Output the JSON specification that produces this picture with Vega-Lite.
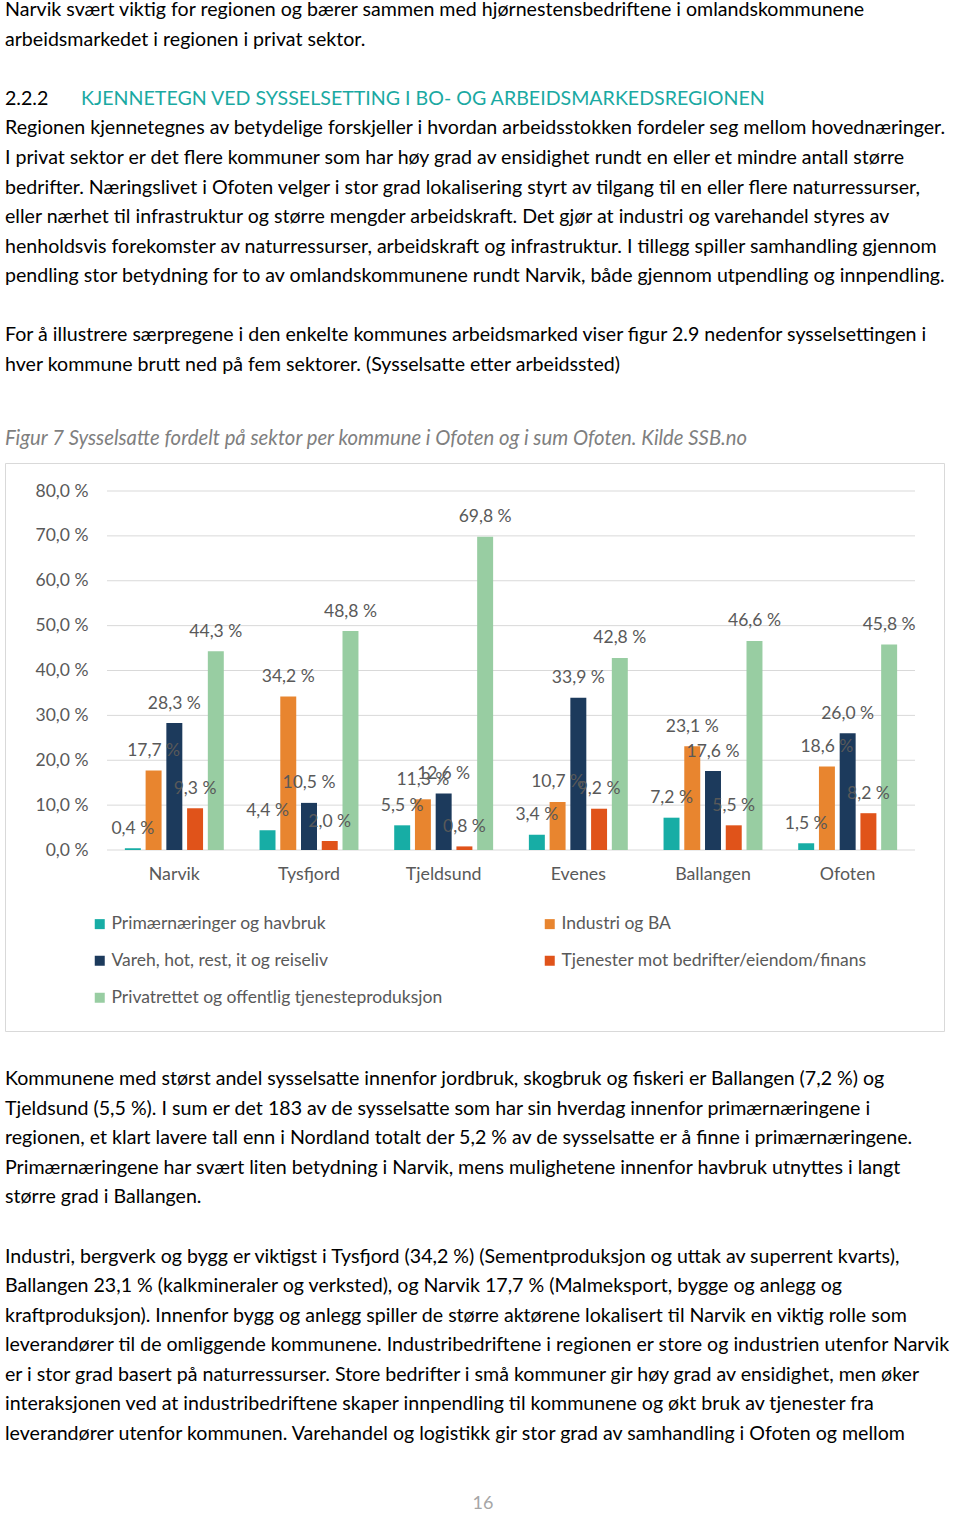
{
  "$schema": "https://vega.github.io/schema/vega-lite/v6.json",
  "background": "white",
  "padding": {"left": 4, "top": 0, "right": 0, "bottom": 0},
  "spacing": 0,
  "bounds": "flush",
  "config": {
    "view": {"stroke": null},
    "font": "Lato",
    "locale": {"number": {"decimal": ",", "thousands": "\u00a0", "grouping": [3], "currency": ["", " %"]}},
    "text": {"font": "Lato"}
  },
  "vconcat": [
    {
      "width": 956,
      "height": 462,
      "data": {"values": [
        {"line": 0, "col": 0, "kind": "body", "text": "Narvik svært viktig for regionen og bærer sammen med hjørnestensbedriftene i omlandskommunene"},
        {"line": 1, "col": 0, "kind": "body", "text": "arbeidsmarkedet i regionen i privat sektor."},
        {"line": 3, "col": 0, "kind": "body", "text": "2.2.2"},
        {"line": 3, "col": 0.0795, "kind": "heading", "text": "KJENNETEGN VED SYSSELSETTING I BO- OG ARBEIDSMARKEDSREGIONEN"},
        {"line": 4, "col": 0, "kind": "body", "text": "Regionen kjennetegnes av betydelige forskjeller i hvordan arbeidsstokken fordeler seg mellom hovednæringer."},
        {"line": 5, "col": 0, "kind": "body", "text": "I privat sektor er det flere kommuner som har høy grad av ensidighet rundt en eller et mindre antall større"},
        {"line": 6, "col": 0, "kind": "body", "text": "bedrifter. Næringslivet i Ofoten velger i stor grad lokalisering styrt av tilgang til en eller flere naturressurser,"},
        {"line": 7, "col": 0, "kind": "body", "text": "eller nærhet til infrastruktur og større mengder arbeidskraft. Det gjør at industri og varehandel styres av"},
        {"line": 8, "col": 0, "kind": "body", "text": "henholdsvis forekomster av naturressurser, arbeidskraft og infrastruktur. I tillegg spiller samhandling gjennom"},
        {"line": 9, "col": 0, "kind": "body", "text": "pendling stor betydning for to av omlandskommunene rundt Narvik, både gjennom utpendling og innpendling."},
        {"line": 11, "col": 0, "kind": "body", "text": "For å illustrere særpregene i den enkelte kommunes arbeidsmarked viser figur 2.9 nedenfor sysselsettingen i"},
        {"line": 12, "col": 0, "kind": "body", "text": "hver kommune brutt ned på fem sektorer. (Sysselsatte etter arbeidssted)"},
        {"line": 14.5, "col": 0, "kind": "caption", "text": "Figur 7 Sysselsatte fordelt på sektor per kommune i Ofoten og i sum Ofoten. Kilde SSB.no"}
      ]},
      "layer": [
        {
          "transform": [{"filter": "datum.kind === 'body'"}],
          "mark": {"type": "text", "align": "left", "baseline": "middle", "fontSize": 19.6, "color": "#000000"},
          "encoding": {
            "x": {"field": "col", "type": "quantitative", "scale": {"domain": [0, 1], "range": [0, 956]}, "axis": null},
            "y": {"field": "line", "type": "quantitative", "scale": {"domain": [0, 14.5], "range": [9, 438]}, "axis": null},
            "text": {"field": "text"}
          }
        },
        {
          "transform": [{"filter": "datum.kind === 'heading'"}],
          "mark": {"type": "text", "align": "left", "baseline": "middle", "fontSize": 19.6, "color": "#1AA9A2"},
          "encoding": {
            "x": {"field": "col", "type": "quantitative", "scale": {"domain": [0, 1], "range": [0, 956]}, "axis": null},
            "y": {"field": "line", "type": "quantitative", "scale": {"domain": [0, 14.5], "range": [9, 438]}, "axis": null},
            "text": {"field": "text"}
          }
        },
        {
          "transform": [{"filter": "datum.kind === 'caption'"}],
          "mark": {"type": "text", "align": "left", "baseline": "middle", "fontSize": 20.3, "fontStyle": "italic", "color": "#7F7F7F"},
          "encoding": {
            "x": {"field": "col", "type": "quantitative", "scale": {"domain": [0, 1], "range": [0, 956]}, "axis": null},
            "y": {"field": "line", "type": "quantitative", "scale": {"domain": [0, 14.5], "range": [9, 438]}, "axis": null},
            "text": {"field": "text"}
          }
        }
      ]
    },
    {
      "width": 939,
      "height": 568,
      "view": {"stroke": "#D9D9D9", "strokeWidth": 1},
      "resolve": {"scale": {"x": "independent"}},
      "layer": [
        {
          "data": {"values": [{"g": 0}, {"g": 10}, {"g": 20}, {"g": 30}, {"g": 40}, {"g": 50}, {"g": 60}, {"g": 70}, {"g": 80}]},
          "mark": {"type": "rule", "color": "#D9D9D9", "strokeWidth": 1},
          "encoding": {
            "x": {"datum": 0, "type": "quantitative", "scale": {"domain": [0, 1], "range": [102, 910]}, "axis": null},
            "x2": {"datum": 1},
            "y": {"field": "g", "type": "quantitative", "title": null, "scale": {"domain": [0, 80], "range": [387, 28], "nice": false, "zero": false},
              "axis": {"values": [0, 10, 20, 30, 40, 50, 60, 70, 80], "format": "$.1f", "offset": -93, "labelPadding": 10, "ticks": false, "tickSize": 0, "domain": false, "grid": false, "labelFont": "Lato", "labelFontSize": 17.5, "labelColor": "#595959", "title": null}}
          }
        },
        {
          "data": {"name": "main", "values": [
            {"kommune": "Narvik", "sektor": "Primærnæringer og havbruk", "value": 0.4},
            {"kommune": "Narvik", "sektor": "Industri og BA", "value": 17.7},
            {"kommune": "Narvik", "sektor": "Vareh, hot, rest, it og reiseliv", "value": 28.3},
            {"kommune": "Narvik", "sektor": "Tjenester mot bedrifter/eiendom/finans", "value": 9.3},
            {"kommune": "Narvik", "sektor": "Privatrettet og offentlig tjenesteproduksjon", "value": 44.3},
            {"kommune": "Tysfjord", "sektor": "Primærnæringer og havbruk", "value": 4.4},
            {"kommune": "Tysfjord", "sektor": "Industri og BA", "value": 34.2},
            {"kommune": "Tysfjord", "sektor": "Vareh, hot, rest, it og reiseliv", "value": 10.5},
            {"kommune": "Tysfjord", "sektor": "Tjenester mot bedrifter/eiendom/finans", "value": 2.0},
            {"kommune": "Tysfjord", "sektor": "Privatrettet og offentlig tjenesteproduksjon", "value": 48.8},
            {"kommune": "Tjeldsund", "sektor": "Primærnæringer og havbruk", "value": 5.5},
            {"kommune": "Tjeldsund", "sektor": "Industri og BA", "value": 11.3},
            {"kommune": "Tjeldsund", "sektor": "Vareh, hot, rest, it og reiseliv", "value": 12.6},
            {"kommune": "Tjeldsund", "sektor": "Tjenester mot bedrifter/eiendom/finans", "value": 0.8},
            {"kommune": "Tjeldsund", "sektor": "Privatrettet og offentlig tjenesteproduksjon", "value": 69.8},
            {"kommune": "Evenes", "sektor": "Primærnæringer og havbruk", "value": 3.4},
            {"kommune": "Evenes", "sektor": "Industri og BA", "value": 10.7},
            {"kommune": "Evenes", "sektor": "Vareh, hot, rest, it og reiseliv", "value": 33.9},
            {"kommune": "Evenes", "sektor": "Tjenester mot bedrifter/eiendom/finans", "value": 9.2},
            {"kommune": "Evenes", "sektor": "Privatrettet og offentlig tjenesteproduksjon", "value": 42.8},
            {"kommune": "Ballangen", "sektor": "Primærnæringer og havbruk", "value": 7.2},
            {"kommune": "Ballangen", "sektor": "Industri og BA", "value": 23.1},
            {"kommune": "Ballangen", "sektor": "Vareh, hot, rest, it og reiseliv", "value": 17.6},
            {"kommune": "Ballangen", "sektor": "Tjenester mot bedrifter/eiendom/finans", "value": 5.5},
            {"kommune": "Ballangen", "sektor": "Privatrettet og offentlig tjenesteproduksjon", "value": 46.6},
            {"kommune": "Ofoten", "sektor": "Primærnæringer og havbruk", "value": 1.5},
            {"kommune": "Ofoten", "sektor": "Industri og BA", "value": 18.6},
            {"kommune": "Ofoten", "sektor": "Vareh, hot, rest, it og reiseliv", "value": 26.0},
            {"kommune": "Ofoten", "sektor": "Tjenester mot bedrifter/eiendom/finans", "value": 8.2},
            {"kommune": "Ofoten", "sektor": "Privatrettet og offentlig tjenesteproduksjon", "value": 45.8}
          ]},
          "layer": [
            {
              "mark": {"type": "bar"},
              "encoding": {
                "x": {"field": "kommune", "type": "nominal", "sort": null, "axis": null,
                  "scale": {"domain": ["Narvik", "Tysfjord", "Tjeldsund", "Evenes", "Ballangen", "Ofoten"], "range": [102, 910], "paddingInner": 0.23, "paddingOuter": 0.115}},
                "xOffset": {"field": "sektor", "type": "nominal", "sort": null,
                  "scale": {"domain": ["Primærnæringer og havbruk", "Industri og BA", "Vareh, hot, rest, it og reiseliv", "Tjenester mot bedrifter/eiendom/finans", "Privatrettet og offentlig tjenesteproduksjon"], "paddingInner": 0.23, "paddingOuter": 0.115}},
                "y": {"field": "value", "type": "quantitative", "title": null},
                "color": {"field": "sektor", "type": "nominal", "sort": null, "title": null,
                  "scale": {"domain": ["Primærnæringer og havbruk", "Industri og BA", "Vareh, hot, rest, it og reiseliv", "Tjenester mot bedrifter/eiendom/finans", "Privatrettet og offentlig tjenesteproduksjon"],
                    "range": ["#17ADA5", "#E8852F", "#1C3A5C", "#E0531A", "#98CDA2"]},
                  "legend": {"orient": "none", "legendX": 86, "legendY": 914, "columns": 2, "direction": "horizontal", "symbolType": "square", "symbolSize": 100, "symbolStrokeWidth": 0, "labelFont": "Lato", "labelFontSize": 17.5, "labelColor": "#595959", "labelOffset": 3, "rowPadding": 18, "columnPadding": 98, "padding": 0, "labelLimit": 500}}
              }
            },
            {
              "mark": {"type": "text", "baseline": "middle", "align": "center", "dy": -19.5, "fontSize": 17.5, "color": "#595959"},
              "encoding": {
                "x": {"field": "kommune", "type": "nominal", "sort": null, "axis": null,
                  "scale": {"domain": ["Narvik", "Tysfjord", "Tjeldsund", "Evenes", "Ballangen", "Ofoten"], "range": [102, 910], "paddingInner": 0.23, "paddingOuter": 0.115}},
                "xOffset": {"field": "sektor", "type": "nominal", "sort": null},
                "y": {"field": "value", "type": "quantitative", "title": null},
                "text": {"field": "value", "type": "quantitative", "format": "$.1f"}
              }
            }
          ]
        },
        {
          "data": {"values": [{"kommune": "Narvik"}, {"kommune": "Tysfjord"}, {"kommune": "Tjeldsund"}, {"kommune": "Evenes"}, {"kommune": "Ballangen"}, {"kommune": "Ofoten"}]},
          "mark": {"type": "text", "baseline": "middle", "align": "center", "dy": 25, "fontSize": 17.8, "color": "#595959"},
          "encoding": {
            "x": {"field": "kommune", "type": "nominal", "sort": null, "axis": null,
              "scale": {"domain": ["Narvik", "Tysfjord", "Tjeldsund", "Evenes", "Ballangen", "Ofoten"], "range": [102, 910], "paddingInner": 0.23, "paddingOuter": 0.115}},
            "y": {"datum": 0, "type": "quantitative", "title": null},
            "text": {"field": "kommune"}
          }
        }
      ]
    },
    {
      "width": 956,
      "height": 483,
      "data": {"values": [
        {"line": 0, "col": 0, "kind": "body", "text": "Kommunene med størst andel sysselsatte innenfor jordbruk, skogbruk og fiskeri er Ballangen (7,2 %) og"},
        {"line": 1, "col": 0, "kind": "body", "text": "Tjeldsund (5,5 %). I sum er det 183 av de sysselsatte som har sin hverdag innenfor primærnæringene i"},
        {"line": 2, "col": 0, "kind": "body", "text": "regionen, et klart lavere tall enn i Nordland totalt der 5,2 % av de sysselsatte er å finne i primærnæringene."},
        {"line": 3, "col": 0, "kind": "body", "text": "Primærnæringene har svært liten betydning i Narvik, mens mulighetene innenfor havbruk utnyttes i langt"},
        {"line": 4, "col": 0, "kind": "body", "text": "større grad i Ballangen."},
        {"line": 6, "col": 0, "kind": "body", "text": "Industri, bergverk og bygg er viktigst i Tysfjord (34,2 %) (Sementproduksjon og uttak av superrent kvarts),"},
        {"line": 7, "col": 0, "kind": "body", "text": "Ballangen 23,1 % (kalkmineraler og verksted), og Narvik 17,7 % (Malmeksport, bygge og anlegg og"},
        {"line": 8, "col": 0, "kind": "body", "text": "kraftproduksjon). Innenfor bygg og anlegg spiller de større aktørene lokalisert til Narvik en viktig rolle som"},
        {"line": 9, "col": 0, "kind": "body", "text": "leverandører til de omliggende kommunene. Industribedriftene i regionen er store og industrien utenfor Narvik"},
        {"line": 10, "col": 0, "kind": "body", "text": "er i stor grad basert på naturressurser. Store bedrifter i små kommuner gir høy grad av ensidighet, men øker"},
        {"line": 11, "col": 0, "kind": "body", "text": "interaksjonen ved at industribedriftene skaper innpendling til kommunene og økt bruk av tjenester fra"},
        {"line": 12, "col": 0, "kind": "body", "text": "leverandører utenfor kommunen. Varehandel og logistikk gir stor grad av samhandling i Ofoten og mellom"},
        {"line": 14.37, "col": 0.5, "kind": "page", "text": "16"}
      ]},
      "layer": [
        {
          "transform": [{"filter": "datum.kind === 'body'"}],
          "mark": {"type": "text", "align": "left", "baseline": "middle", "fontSize": 19.6, "color": "#000000"},
          "encoding": {
            "x": {"field": "col", "type": "quantitative", "scale": {"domain": [0, 1], "range": [0, 956]}, "axis": null},
            "y": {"field": "line", "type": "quantitative", "scale": {"domain": [0, 12], "range": [48, 403]}, "axis": null},
            "text": {"field": "text"}
          }
        },
        {
          "transform": [{"filter": "datum.kind === 'page'"}],
          "mark": {"type": "text", "align": "center", "baseline": "middle", "fontSize": 18, "color": "#A6A6A6"},
          "encoding": {
            "x": {"field": "col", "type": "quantitative", "scale": {"domain": [0, 1], "range": [0, 956]}, "axis": null},
            "y": {"field": "line", "type": "quantitative", "scale": {"domain": [0, 12], "range": [48, 403]}, "axis": null},
            "text": {"field": "text"}
          }
        }
      ]
    }
  ]
}
